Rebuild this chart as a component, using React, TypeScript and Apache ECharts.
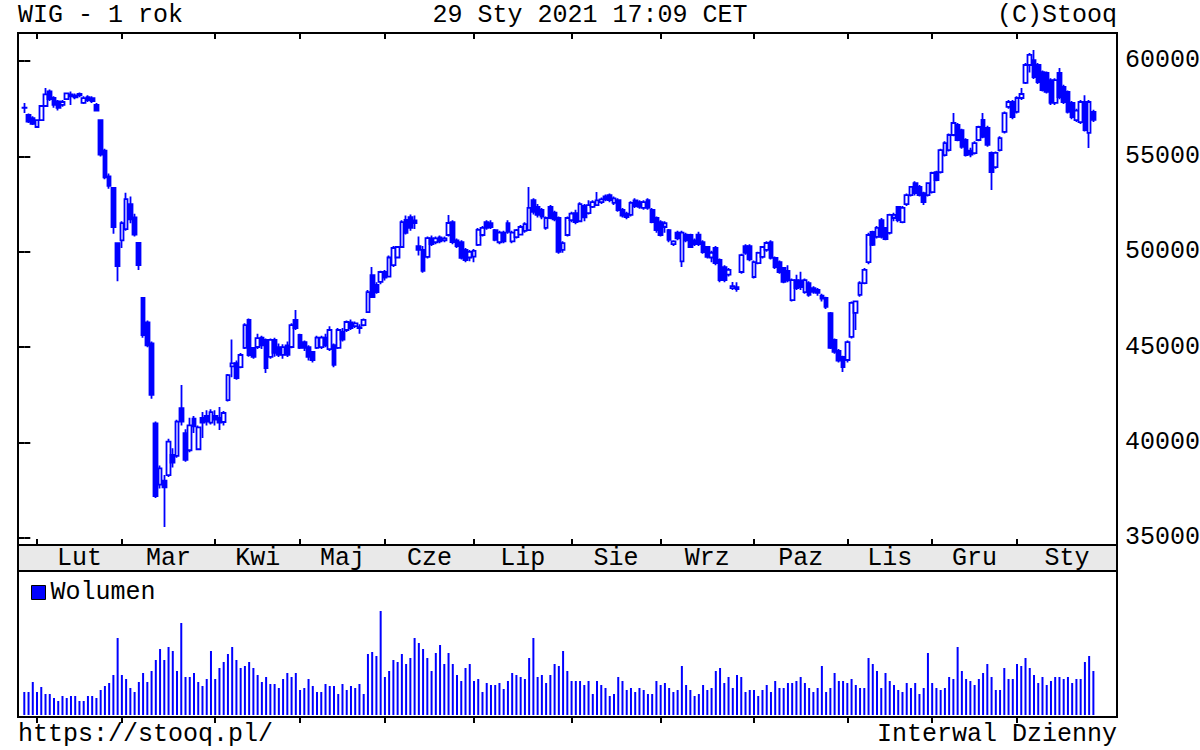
import React, { useEffect, useRef } from "react";
import * as echarts from "echarts";

const FONT = "'Liberation Mono', 'DejaVu Sans Mono', monospace";
const FS = 25;
const BLUE = "#0000ff";

const POLISH_MONTHS = ["Sty", "Lut", "Mar", "Kwi", "Maj", "Cze", "Lip", "Sie", "Wrz", "Paz", "Lis", "Gru"];
const PRICE_TICKS = [35000, 40000, 45000, 50000, 55000, 60000];
const HOLIDAYS = [
  "2020-04-10", "2020-04-13", "2020-05-01", "2020-06-11", "2020-11-11",
  "2020-12-24", "2020-12-25", "2020-12-31", "2021-01-01", "2021-01-06",
];

const OPEN = [
  57540, 57170, 57000, 56540, 56900, 57640, 58400, 58060, 57880, 57700,
  58000, 58250, 58100, 58200, 57800, 58100, 58050, 57700, 56900, 55300,
  53950, 53350, 50450, 50600, 51190, 52500, 51800, 50460, 47580, 46300,
  45200, 41000, 37800, 38000, 38300, 39350, 39300, 41800, 40500, 39600,
  41250, 39650, 41300, 41400, 41050, 41400, 41300, 41080, 42230, 44000,
  44170, 43960, 44960, 46430, 44960, 45010, 45500, 45380, 44490, 45380,
  45000, 44600, 45100, 45010, 46430, 45640, 45270, 45000, 44750, 44960,
  45000, 45500, 44900, 45110, 44960, 45800, 45900, 46300, 46100, 46000,
  46160, 46840, 48780, 48260, 48420, 48940, 48700, 49300, 49700, 50250,
  51670, 51820, 51650, 50300, 50100, 49730, 50700, 50500, 50750, 50600,
  50880, 51560, 50600, 50500, 50100, 49700, 49750, 50360, 50880, 51560,
  51500, 51140, 50500, 51000, 51500, 50550, 50770, 50900, 51100, 51140,
  52710, 52350, 52200, 51250, 52350, 52050, 51770, 50100, 50880, 51660,
  52030, 51600, 52400, 52030, 52350, 52450, 52600, 52900, 52970, 52560,
  52710, 52200, 52000, 51930, 52700, 52600, 52300, 52710, 52190, 51770,
  51560, 51300, 51140, 50400, 51000, 49500, 50900, 50880, 50600, 50900,
  50510, 50250, 49700, 50200, 49570, 49200, 48800, 48100, 48150, 48940,
  50300, 50300, 48680, 49410, 49730, 50100, 50500, 49680, 49460, 49150,
  49000, 47470, 48520, 48500, 47890, 48360, 48100, 48000, 47700, 47580,
  46790, 45380, 44800, 44490, 44330, 45540, 46800, 47740, 48360, 49460,
  51040, 50780, 51660, 51250, 50990, 51770, 52350, 51560, 52500, 52970,
  53600, 53400, 53080, 52970, 53130, 54180, 54180, 55070, 55330, 56120,
  56650, 56380, 55860, 55300, 55170, 55860, 56910, 56490, 55180, 54440,
  55330, 56280, 57590, 57850, 57330, 58060, 58850, 59790, 60050, 59790,
  59420, 59370, 59000, 57800, 59370, 58640, 58380, 57800, 56900, 56800,
  57850, 56230, 57330,
];

const CLOSE = [
  57560, 56820, 56700, 56900, 57640, 58250, 58000, 57700, 57550, 57850,
  58300, 58150, 58200, 58280, 58050, 57950, 57900, 57400, 55100, 53900,
  53450, 51300, 49250, 51500, 52760, 51700, 50900, 49300, 45640, 45100,
  42500, 37200, 38650, 37650, 40050, 38950, 41100, 41100, 39100, 40900,
  40850, 40800, 41050, 41100, 41600, 41200, 41050, 41550, 43540, 44150,
  43380, 44590, 46160, 44590, 44490, 45480, 45100, 43910, 45380, 44700,
  44600, 45000, 44600, 46160, 46000, 44960, 44960, 44490, 44330, 45500,
  45500, 45100, 45900, 44070, 45900, 45400, 46320, 46000, 46250, 46050,
  46430, 47890, 47630, 47890, 48940, 48650, 49700, 50200, 50250, 51560,
  50990, 51250, 51500, 50100, 49000, 50720, 50400, 50700, 50550, 50700,
  51510, 50510, 50300, 49680, 49570, 50000, 50050, 51150, 51250, 51250,
  51300, 50620, 51000, 50550, 51040, 51000, 51140, 51300, 51450, 52300,
  52090, 51930, 51850, 51770, 51770, 51700, 50000, 50450, 51770, 52000,
  51560, 52500, 51800, 52450, 52600, 52700, 52750, 52750, 52710, 52800,
  52190, 51900, 51820, 52560, 52400, 52350, 52600, 52300, 51560, 51140,
  50880, 51500, 50620, 50550, 50700, 51000, 50600, 50250, 50400, 50400,
  49990, 49730, 49950, 49410, 48520, 48520, 49050, 48200, 48050, 49830,
  49950, 49600, 49460, 49940, 50250, 50460, 49680, 49200, 48940, 48420,
  48500, 48520, 48100, 48150, 48520, 47740, 47900, 47850, 47550, 47110,
  44960, 44750, 44300, 43960, 45270, 47320, 47400, 48360, 49050, 50880,
  50360, 51250, 50780, 50670, 51930, 51930, 51660, 52300, 52970, 53400,
  53080, 52970, 52610, 53600, 54130, 53760, 55330, 55700, 56120, 56750,
  55860, 55500, 55070, 55100, 55700, 56540, 56020, 55600, 54180, 55180,
  55960, 57270, 57850, 57060, 58060, 58270, 59790, 60320, 59160, 58900,
  58480, 58380, 57800, 59000, 58110, 57850, 57330, 57060, 57400, 57850,
  56380, 57850, 56910,
];

const LOW = [
  57280, 56750, 56650, 56500, 56850, 57600, 57900, 57550, 57400, 57600,
  57950, 57700, 58000, 58100, 57750, 57850, 57800, 57350, 55000, 53800,
  53300, 50950, 48450, 50200, 51100, 51500, 50800, 49050, 45500, 45000,
  42300, 37100, 37600, 35580, 38200, 38700, 39200, 40900, 39000, 39500,
  40500, 39600, 40240, 40900, 40950, 40900, 40660, 40900, 42150, 43430,
  43300, 43900, 44900, 44500, 44400, 44900, 44900, 43650, 44400, 44500,
  44490, 44400, 44490, 44950, 45900, 44900, 44800, 44300, 44200, 44900,
  44900, 45000, 44800, 43950, 44900, 45300, 45800, 45900, 46000, 45700,
  46100, 46800, 47600, 47800, 48300, 48500, 48650, 49200, 49650, 50200,
  50900, 51100, 51200, 49800, 48900, 49650, 50300, 50400, 50450, 50500,
  50800, 50400, 50200, 49600, 49450, 49500, 49450, 50300, 50800, 51150,
  51200, 50550, 50400, 50450, 50950, 50450, 50700, 50850, 51000, 51100,
  51950, 51800, 51700, 51150, 51700, 51600, 49900, 49950, 50800, 51550,
  51450, 51550, 51600, 51950, 52300, 52400, 52500, 52650, 52600, 52450,
  52100, 51800, 51700, 51850, 52300, 52250, 52200, 52200, 51500, 51000,
  50800, 51000, 50500, 50300, 50600, 49200, 50500, 50200, 50300, 50300,
  49900, 49650, 49450, 49300, 48400, 48400, 48700, 48000, 47900, 48850,
  49850, 49500, 48600, 49350, 49650, 50000, 49600, 49100, 48850, 48350,
  48400, 47400, 48000, 48000, 47800, 47650, 47800, 47700, 47400, 47000,
  44900, 44650, 44200, 43700, 44200, 45450, 45900, 47650, 48300, 49350,
  50300, 50700, 50700, 50600, 50900, 51600, 51550, 51500, 52400, 52900,
  52950, 52900, 52450, 52900, 53050, 53700, 54100, 55000, 55250, 56050,
  55800, 55400, 55000, 54950, 55100, 55800, 55950, 55500, 53240, 54350,
  55250, 56200, 57500, 56950, 57250, 57950, 58800, 59400, 59050, 58800,
  58400, 58300, 57700, 57700, 58000, 57750, 57250, 56950, 56800, 56700,
  56300, 55440, 56800,
];

const HIGH = [
  57800, 57250, 57100, 56950, 57700, 58580, 58500, 58150, 57950, 57950,
  58350, 58400, 58300, 58350, 58150, 58200, 58150, 57800, 56950, 55400,
  54100, 53400, 50500, 51600, 53100, 52900, 52000, 50500, 47600, 46400,
  45300, 41100, 38800, 38300, 40200, 39700, 41200, 43020, 40700, 41300,
  41400, 40900, 41600, 41700, 41750, 41700, 41870, 41650, 43600, 45400,
  44300, 44700, 46250, 46500, 45000, 45700, 45600, 45450, 45450, 45500,
  45200, 45150, 45300, 46250, 46950, 45700, 45350, 45100, 44800, 45600,
  45600, 45700, 46100, 45200, 46000, 46000, 46400, 46450, 46350, 46200,
  46500, 48000, 49200, 48400, 49000, 49050, 49800, 50300, 50300, 51650,
  51900, 51950, 51900, 50800, 50300, 50800, 50850, 50800, 50850, 50800,
  51930, 51650, 50700, 50600, 50200, 50100, 50150, 51250, 51350, 51650,
  51650, 51200, 51100, 51100, 51650, 51100, 51200, 51400, 51550, 53400,
  52800, 52500, 52300, 51850, 52450, 52150, 51850, 50550, 51850, 52100,
  52200, 52600, 52500, 52700, 52700, 53130, 52850, 53000, 53050, 52900,
  52800, 52300, 52100, 52650, 52800, 52700, 52700, 52800, 52300, 51850,
  51650, 51600, 51200, 50600, 51100, 51100, 51000, 50950, 50700, 51050,
  50600, 50300, 50050, 50300, 49650, 49300, 49150, 48420, 48400, 49900,
  50400, 50400, 49550, 50000, 50300, 50550, 50600, 49750, 49550, 49200,
  49300, 48600, 48800, 48950, 48600, 48450, 48200, 48100, 47800, 47650,
  46850, 45450, 44900, 44550, 45350, 47400, 47450, 48450, 49150, 51000,
  51100, 51350, 51770, 51300, 52000, 52050, 52400, 52400, 53050, 53450,
  53700, 53500, 53150, 53650, 54200, 54250, 55400, 55800, 56200, 57270,
  56750, 56450, 55950, 55450, 55800, 56600, 57270, 56600, 55250, 55250,
  56050, 57350, 57950, 57950, 58150, 58580, 59900, 60420, 60580, 59900,
  59500, 59450, 59100, 59100, 59630, 58750, 58450, 57900, 57500, 57950,
  58200, 57950, 57450,
];

// volume in relative units (bar height)
const VOLUME = [
  23, 23, 33, 23, 28, 21, 21, 17, 14, 19, 17, 19, 19, 14, 14, 19, 19, 17, 25, 29,
  32, 40, 77, 40, 36, 27, 23, 33, 42, 33, 44, 55, 66, 55, 68, 64, 44, 92, 38, 38,
  42, 33, 29, 36, 64, 36, 47, 53, 61, 68, 55, 47, 49, 53, 47, 40, 33, 38, 31, 31,
  27, 36, 42, 38, 42, 25, 27, 36, 29, 23, 23, 31, 29, 29, 21, 31, 25, 29, 27, 31,
  21, 61, 63, 59, 104, 38, 44, 55, 53, 61, 51, 57, 77,
  72, 66, 57, 44, 62, 70, 51, 62, 51, 40, 34, 47, 51, 34, 36, 23, 32, 30, 30, 32,
  26, 34, 42, 40, 38, 36, 57, 77, 38, 40, 32, 40, 51, 49, 64, 44, 34, 34, 34, 30,
  34, 21, 34, 30, 27, 19, 21, 38, 34, 25, 27, 23, 27, 25, 21, 21, 34, 30, 32, 27,
  23, 25, 49, 30, 25, 19, 21, 30, 25, 27, 44, 47, 32, 38, 27, 40, 38, 23, 25, 25,
  19, 25, 30, 23, 34, 27, 27, 32,
  32, 34, 38, 32, 27, 23, 27, 49, 23, 27, 42, 34, 34, 32, 36, 30, 27, 27, 57, 51,
  44, 27, 42, 34, 30, 25, 23, 32, 27, 32, 21, 27, 62, 32, 27, 25, 27, 38, 36, 68,
  44, 36, 34, 30, 36, 42, 51, 38, 25, 25, 47, 36, 36, 51, 49, 57, 47, 40, 32, 38,
  30, 34, 38, 38, 36, 38, 32, 36, 36, 53, 59, 44,
];

function buildDates(): string[] {
  const out: string[] = [];
  const d = new Date(Date.UTC(2020, 0, 29));
  const end = Date.UTC(2021, 0, 29);
  while (d.getTime() <= end) {
    const iso = d.toISOString().slice(0, 10);
    const wd = d.getUTCDay();
    if (wd !== 0 && wd !== 6 && HOLIDAYS.indexOf(iso) < 0) out.push(iso);
    d.setUTCDate(d.getUTCDate() + 1);
  }
  return out;
}

// layout (pixels)
const STEP = 4.2424;
const X0 = 24.3;
const FRAME_L = 18;
const FRAME_R = 1117;
const PRICE_TOP = 33;
const PRICE_BOT = 545;
const BAND_BOT = 571;
const VOL_BASE = 715;
const VOL_BOT = 717;
const Y_MIN = 34633;
const Y_MAX = 61467;

function buildOption() {
  const dates = buildDates();
  const N = dates.length;
  const monthStarts: number[] = [];
  for (let i = 1; i < N; i++) {
    if (dates[i].slice(5, 7) !== dates[i - 1].slice(5, 7)) monthStarts.push(i);
  }
  const monthNames = monthStarts.map((s) => POLISH_MONTHS[parseInt(dates[s].slice(5, 7), 10) - 1]);
  const vMin = (FRAME_L - X0) / STEP;
  const vMax = (FRAME_R - X0) / STEP;
  const labelPos = monthStarts.map((s, k) => (s + (k + 1 < monthStarts.length ? monthStarts[k + 1] : vMax)) / 2);
  const monthLabel = (v: number) => {
    for (let k = 0; k < labelPos.length; k++) if (Math.abs(labelPos[k] - v) < 1e-6) return monthNames[k];
    return "";
  };
  const candles = dates.map((_, i) => [OPEN[i], CLOSE[i], LOW[i], HIGH[i]]);
  const dataLeft = X0 - STEP / 2;
  const dataWidth = N * STEP;
  const txt = { fontFamily: FONT, fontSize: FS, fontWeight: "normal" as const, color: "#000" };
  const tickStyle = { color: "#000", width: 2 };

  return {
    animation: false,
    backgroundColor: "#ffffff",
    title: [
      { text: "WIG - 1 rok", left: FRAME_L, top: 3, padding: 0, textStyle: txt },
      { text: "29 Sty 2021 17:09 CET", left: 590, top: 3, padding: 0, textAlign: "center", textStyle: txt },
      { text: "(C)Stooq", left: FRAME_R, top: 3, padding: 0, textAlign: "right", textStyle: txt },
      { text: "https://stooq.pl/", left: FRAME_L, top: 722, padding: 0, textStyle: txt },
      { text: "Interwal Dzienny", left: FRAME_R, top: 722, padding: 0, textAlign: "right", textStyle: txt },
    ],
    legend: {
      data: [{ name: "Wolumen", icon: "rect" }],
      left: 31,
      top: 580,
      padding: 0,
      itemWidth: 14,
      itemHeight: 14,
      selectedMode: false,
      itemStyle: { borderColor: "#000", borderWidth: 1 },
      textStyle: { fontFamily: FONT, fontSize: FS, color: "#000" },
    },
    graphic: [
      {
        type: "rect",
        z: 0,
        shape: { x: FRAME_L, y: PRICE_BOT, width: FRAME_R - FRAME_L, height: BAND_BOT - PRICE_BOT },
        style: { fill: "#e9e9e9", stroke: "#000", lineWidth: 2 },
      },
      {
        type: "rect",
        z: 0,
        shape: { x: FRAME_L, y: PRICE_TOP, width: FRAME_R - FRAME_L, height: PRICE_BOT - PRICE_TOP },
        style: { fill: "none", stroke: "#000", lineWidth: 2 },
      },
      {
        type: "rect",
        z: 0,
        shape: { x: FRAME_L, y: BAND_BOT, width: FRAME_R - FRAME_L, height: VOL_BOT - BAND_BOT },
        style: { fill: "none", stroke: "#000", lineWidth: 2 },
      },
    ],
    grid: [
      { left: dataLeft, top: PRICE_TOP, width: dataWidth, height: PRICE_BOT - PRICE_TOP, outerBoundsMode: "none", containLabel: false },
      { left: dataLeft, top: BAND_BOT, width: dataWidth, height: VOL_BASE - BAND_BOT, outerBoundsMode: "none", containLabel: false },
      { left: FRAME_L, top: PRICE_TOP, width: FRAME_R - FRAME_L, height: PRICE_BOT - PRICE_TOP, outerBoundsMode: "none", containLabel: false },
      { left: FRAME_L, top: BAND_BOT, width: FRAME_R - FRAME_L, height: VOL_BOT - BAND_BOT, outerBoundsMode: "none", containLabel: false },
    ],
    xAxis: [
      { type: "category", gridIndex: 0, data: dates, boundaryGap: true, show: false },
      { type: "category", gridIndex: 1, data: dates, boundaryGap: true, show: false },
      {
        type: "value", gridIndex: 2, position: "top", min: vMin, max: vMax,
        axisLine: { show: false }, splitLine: { show: false },
        axisTick: { show: true, inside: true, length: 6, customValues: monthStarts, lineStyle: tickStyle },
        axisLabel: { show: false },
      },
      {
        type: "value", gridIndex: 2, position: "bottom", min: vMin, max: vMax,
        axisLine: { show: false }, splitLine: { show: false },
        axisTick: { show: true, inside: true, length: 6, customValues: monthStarts, lineStyle: tickStyle },
        axisLabel: {
          show: true, customValues: labelPos, formatter: monthLabel, margin: 13,
          verticalAlign: "middle", fontFamily: FONT, fontSize: FS, color: "#000",
        },
      },
      {
        type: "value", gridIndex: 3, position: "top", min: vMin, max: vMax,
        axisLine: { show: false }, splitLine: { show: false },
        axisTick: { show: true, inside: true, length: 6, customValues: monthStarts, lineStyle: tickStyle },
        axisLabel: { show: false },
      },
    ],
    yAxis: [
      { type: "value", gridIndex: 0, min: Y_MIN, max: Y_MAX, show: false, splitLine: { show: false } },
      { type: "value", gridIndex: 1, min: 0, max: VOL_BASE - BAND_BOT, show: false, splitLine: { show: false } },
      {
        type: "value", gridIndex: 2, position: "right", min: Y_MIN, max: Y_MAX,
        axisLine: { show: false }, splitLine: { show: false },
        axisTick: { show: true, inside: true, length: 6, customValues: PRICE_TICKS, lineStyle: tickStyle },
        axisLabel: {
          show: true, customValues: PRICE_TICKS, margin: 8,
          formatter: (v: number) => String(v),
          fontFamily: FONT, fontSize: FS, color: "#000",
        },
      },
      {
        type: "value", gridIndex: 2, position: "left", min: Y_MIN, max: Y_MAX,
        axisLine: { show: false }, splitLine: { show: false },
        axisTick: { show: true, inside: true, length: 6, customValues: PRICE_TICKS, lineStyle: tickStyle },
        axisLabel: { show: false },
      },
      { type: "value", gridIndex: 3, min: 0, max: 1, show: false, splitLine: { show: false } },
    ],
    series: [
      {
        name: "WIG",
        type: "candlestick",
        xAxisIndex: 0,
        yAxisIndex: 0,
        data: candles,
        barWidth: 4.2,
        itemStyle: {
          color: "#ffffff",
          color0: BLUE,
          borderColor: BLUE,
          borderColor0: BLUE,
          borderColorDoji: BLUE,
          borderWidth: 1.8,
        },
      },
      {
        name: "Wolumen",
        type: "bar",
        xAxisIndex: 1,
        yAxisIndex: 1,
        data: VOLUME,
        barWidth: 2,
        itemStyle: { color: BLUE },
      },
    ],
  };
}

export default function App() {
  const ref = useRef<HTMLDivElement>(null);
  useEffect(() => {
    if (!ref.current) return;
    const chart = echarts.init(ref.current, null, { renderer: "svg" });
    chart.setOption(buildOption() as any);
    return () => chart.dispose();
  }, []);
  return (
    <div
      ref={ref}
      style={{ position: "absolute", left: 0, top: 0, width: 1200, height: 750, background: "#ffffff" }}
    />
  );
}
